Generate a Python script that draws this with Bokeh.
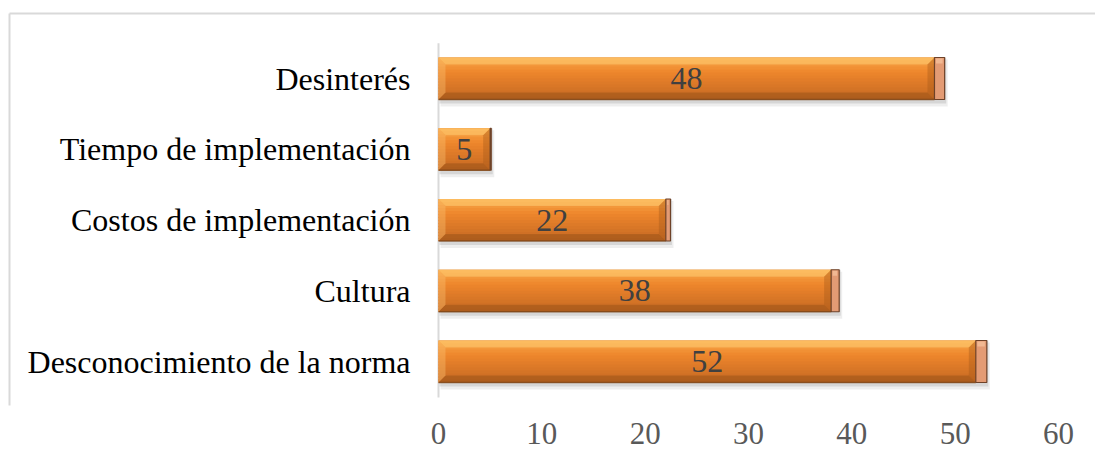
from bokeh.plotting import figure
from bokeh.models import Range1d, FixedTicker, ColumnDataSource
from bokeh.core.properties import value
from bokeh.embed import file_html
from bokeh.resources import INLINE
import numpy as np

categories = ["Desconocimiento de la norma", "Cultura", "Costos de implementación",
              "Tiempo de implementación", "Desinterés"]
values = [52, 38, 22, 5, 48]
ticks = [0, 10, 20, 30, 40, 50, 60]

W, H = 1095, 461
x0_px, px_per_unit = 438.0, 10.333
y0_px, py_per_unit = 361.0, 70.75
frame_h = 405

xr = Range1d(-x0_px / px_per_unit, (W - x0_px) / px_per_unit)
yr = Range1d((y0_px - frame_h) / py_per_unit, y0_px / py_per_unit)

p = figure(width=W, height=H, x_range=xr, y_range=yr, output_backend="svg",
           toolbar_location=None, min_border_left=0, min_border_right=0,
           min_border_top=0, min_border_bottom=H - frame_h)
p.outline_line_color = None
p.grid.visible = False
p.yaxis.visible = False
p.background_fill_color = "white"
p.border_fill_color = "white"

ax = p.xaxis[0]
ax.ticker = FixedTicker(ticks=ticks)
ax.axis_line_color = None
ax.major_tick_line_color = None
ax.minor_tick_line_color = None
ax.major_label_text_font = "Liberation Serif"
ax.major_label_text_font_size = "31px"
ax.major_label_text_color = "#595959"
ax.major_label_standoff = 11

ux = 1.0 / px_per_unit
uy = 1.0 / py_per_unit

# outer chart border
bx = -(x0_px - 9) * ux
by = (y0_px - 13) * uy
p.segment(x0=[bx, bx], y0=[by, by], x1=[bx, xr.end + 5], y1=[yr.start - 5, by],
          line_color="#D9D9D9", line_width=2)

# category axis line
p.segment(x0=[0], y0=[-0.51], x1=[0], y1=[4.5], line_color="#D9D9D9", line_width=2)

ys = np.arange(len(categories), dtype=float)
vals = np.array(values, dtype=float)
hh = 0.297  # half bar height
cap = vals * 0.0205  # perspective depth of the bar end

# shadow
p.quad(left=0 + 2 * ux, right=vals + cap + 3 * ux, bottom=ys - hh - 7 * uy, top=ys + hh - 2 * uy,
       fill_color="#c8c8c8", fill_alpha=0.3, line_color=None)
p.quad(left=0 + 1 * ux, right=vals + cap + 1.5 * ux, bottom=ys - hh - 4 * uy, top=ys + hh,
       fill_color="#a8a8a8", fill_alpha=0.35, line_color=None)

# gradient body
top_c = np.array([0xF9, 0xA8, 0x48], float)
mid_c = np.array([0xEE, 0x86, 0x2C], float)
bot_c = np.array([0xC4, 0x68, 0x22], float)
p.quad(left=0, right=vals, bottom=ys - hh, top=ys + hh, fill_color="#E8822A", line_color=None)
N = 14
for k in range(N):
    t = (k + 0.5) / N
    if t < 0.35:
        c = top_c + (mid_c - top_c) * (t / 0.35)
    else:
        c = mid_c + (bot_c - mid_c) * ((t - 0.35) / 0.65)
    col = "#%02x%02x%02x" % tuple(int(round(v)) for v in c)
    top = ys + hh - 2 * hh * k / N
    bot = np.maximum(ys + hh - 2 * hh * (k + 1) / N - 1.0 * uy, ys - hh)
    p.quad(left=0, right=vals, bottom=bot, top=top, fill_color=col, line_color=None)

# bevels
bvx = 7 * ux
bvy = 7 * uy
top_xs, top_ys, bot_xs, bot_ys, l_xs, l_ys, r_xs, r_ys = [], [], [], [], [], [], [], []
for y, v in zip(ys, vals):
    t, b = y + hh, y - hh
    top_xs.append([0, v, v - bvx, bvx]); top_ys.append([t, t, t - bvy, t - bvy])
    bot_xs.append([0, v, v - bvx, bvx]); bot_ys.append([b, b, b + bvy, b + bvy])
    l_xs.append([0, bvx, bvx, 0]); l_ys.append([t, t - bvy, b + bvy, b])
    r_xs.append([v, v - bvx, v - bvx, v]); r_ys.append([t, t - bvy, b + bvy, b])
p.patches(top_xs, top_ys, fill_color="#FFD27A", fill_alpha=0.5, line_color=None)
p.patches(bot_xs, bot_ys, fill_color="#8A4A14", fill_alpha=0.4, line_color=None)
p.patches(l_xs, l_ys, fill_color="#FBC070", fill_alpha=0.4, line_color=None)
p.patches(r_xs, r_ys, fill_color="#A85A18", fill_alpha=0.4, line_color=None)
p.segment(x0=np.zeros_like(vals), y0=ys - hh, x1=vals, y1=ys - hh,
          line_color="#7A4318", line_width=1.5, line_alpha=0.8)

# depth cap
p.quad(left=vals, right=vals + cap, bottom=ys - hh, top=ys + hh,
       fill_color="#E39B74", line_color="#6E4228", line_width=1.2)
p.quad(left=vals + 1.5 * ux, right=np.maximum(vals + cap - 2 * ux, vals + 1.5 * ux),
       bottom=ys + hh - 6 * uy, top=ys + hh - 1 * uy,
       fill_color="#F7C4A0", fill_alpha=0.7, line_color=None)

# value labels
src = ColumnDataSource(dict(x=vals / 2, y=ys, t=[str(v) for v in values]))
p.text(x="x", y="y", text="t", source=src, text_align="center", text_baseline="middle",
       text_font=value("Liberation Serif"), text_font_size="32px", text_color="#404040")

# category labels
src2 = ColumnDataSource(dict(x=[-28 * ux] * len(categories), y=ys, t=categories))
p.text(x="x", y="y", text="t", source=src2, text_align="right", text_baseline="middle",
       text_font=value("Liberation Serif"), text_font_size="32px", text_color="#000000")

open("out.html", "w").write(file_html(p, INLINE))
